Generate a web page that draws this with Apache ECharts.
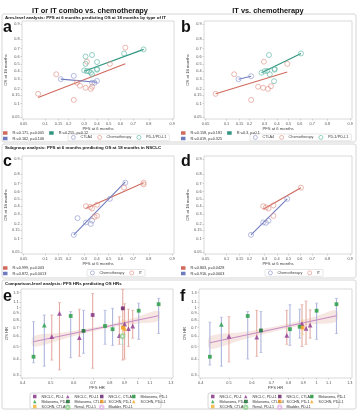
<!DOCTYPE html>
<html>
<head>
<meta charset="utf-8">
<script src="https://cdn.jsdelivr.net/npm/echarts@6/dist/echarts.min.js"></script>
<style>
html, body { margin: 0; padding: 0; background: #fff; }
#chart { width: 358px; height: 411px; }
</style>
</head>
<body>
<div id="chart"></div>
<script>
// ---- panel a : arm level, IT or IT combo vs chemo ----
var aCtlaX = [0.16, 0.23, 0.36, 0.38, 0.40];
var aCtlaY = [0.30, 0.34, 0.26, 0.26, 0.28];
var aChemoX = [0.08, 0.14, 0.23, 0.25, 0.27, 0.31, 0.32, 0.35, 0.36, 0.51, 0.64];
var aChemoY = [0.16, 0.36, 0.12, 0.26, 0.23, 0.21, 0.53, 0.20, 0.22, 0.50, 0.71];
var aPdX = [0.30, 0.31, 0.31, 0.32, 0.335, 0.35, 0.36, 0.36, 0.40, 0.40, 0.40, 0.63, 0.77];
var aPdY = [0.41, 0.60, 0.50, 0.40, 0.40, 0.38, 0.36, 0.62, 0.525, 0.42, 0.43, 0.64, 0.69];
var aCtlaFitX = [0.16, 0.40], aCtlaFitY = [0.30, 0.265];
var aChemoFitX = [0.08, 0.64], aChemoFitY = [0.134, 0.50];
var aPdFitX = [0.30, 0.77], aPdFitY = [0.40, 0.69];
var aStats = ['R²=0.171, p=0.005', 'R²=0.255, p=0.12', 'R²=0.162, p=0.106'];

// ---- panel b : IT vs chemo ----
var bCtlaX = [0.145, 0.21];
var bCtlaY = [0.30, 0.335];
var bChemoX = [0.07, 0.127, 0.21, 0.254, 0.29, 0.295, 0.326, 0.35, 0.49];
var bChemoY = [0.16, 0.36, 0.12, 0.22, 0.21, 0.53, 0.20, 0.225, 0.50];
var bPdX = [0.278, 0.30, 0.32, 0.334, 0.34, 0.38, 0.38, 0.375, 0.61];
var bPdY = [0.38, 0.40, 0.405, 0.62, 0.36, 0.42, 0.43, 0.277, 0.64];
var bCtlaFitX = [0.145, 0.21], bCtlaFitY = [0.30, 0.335];
var bChemoFitX = [0.07, 0.49], bChemoFitY = [0.16, 0.39];
var bPdFitX = [0.278, 0.61], bPdFitY = [0.38, 0.64];
var bStats = ['R²=0.158, p=0.181', 'R²=0.3, p=0.1', 'R²=0.019, p=0.325'];

// ---- panel c : NSCLC, IT or IT combo ----
var cChemoX = [0.23, 0.254, 0.313, 0.35, 0.36, 0.51, 0.64];
var cChemoY = [0.12, 0.256, 0.213, 0.20, 0.23, 0.50, 0.71];
var cItX = [0.313, 0.345, 0.36, 0.40, 0.40, 0.38, 0.63, 0.77, 0.77];
var cItY = [0.40, 0.39, 0.37, 0.42, 0.28, 0.27, 0.65, 0.71, 0.69];
var cChemoFitX = [0.23, 0.64], cChemoFitY = [0.12, 0.72];
var cItFitX = [0.31, 0.77], cItFitY = [0.37, 0.71];
var cStats = ['R²=0.999, p=0.003', 'R²=0.872, p=0.0013'];

// ---- panel d : NSCLC, IT ----
var dChemoX = [0.209, 0.29, 0.31, 0.33, 0.49];
var dChemoY = [0.12, 0.213, 0.21, 0.23, 0.50];
var dItX = [0.29, 0.31, 0.33, 0.37, 0.37, 0.61];
var dItY = [0.40, 0.385, 0.37, 0.41, 0.28, 0.65];
var dChemoFitX = [0.209, 0.49], dChemoFitY = [0.12, 0.50];
var dItFitX = [0.29, 0.61], dItFitY = [0.36, 0.65];
var dStats = ['R²=0.803, p=0.0428', 'R²=0.916, p=0.0003'];

// ---- panel e : comparison level HRs ----
var eCat = ['Melanoma, PD-1', 'Melanoma, PD-L1', 'NSCLC, PD-L1', 'NSCLC, PD-L1', 'Melanoma, PD-1',
    'NSCLC, PD-L1', 'Melanoma, CTLA-4', 'NSCLC, PD-1', 'Melanoma, PD-1', 'Melanoma, PD-1',
    'NSCLC, PD-L1', 'NSCLC, CTLA-4', 'Renal, PD-L1', 'SCCHN, PD-1', 'SCCHN, PD-L1',
    'NSCLC, PD-L1', 'NSCLC, PD-L1', 'NSCLC, PD-L1', 'Melanoma, PD-1', 'Melanoma, PD-1'];
var eX  = [0.436, 0.475, 0.504, 0.536, 0.586, 0.628, 0.649, 0.698, 0.77, 0.818, 0.863, 0.887, 0.885, 0.887, 0.90, 0.90, 0.928, 0.96, 1.007, 1.18];
var eY  = [0.417, 0.73, 0.595, 0.90, 0.86, 0.585, 0.66, 0.875, 0.72, 0.68, 0.606, 0.985, 0.60, 0.70, 0.69, 0.745, 0.686, 0.72, 0.944, 1.06];
var eLo = [0.375, 0.353, 0.393, 0.33, 0.41, 0.42, 0.443, 0.34, 0.52, 0.51, 0.52, 0.393, 0.52, 0.62, 0.62, 0.40, 0.50, 0.58, 0.568, 0.63];
var eHi = [0.777, 0.874, 0.874, 1.09, 0.93, 0.97, 0.95, 1.28, 0.95, 0.985, 0.85, 1.38, 0.74, 0.80, 0.78, 1.07, 0.97, 0.95, 1.08, 1.175];
var eFitX = [0.435, 1.18], eFitY = [0.544, 0.864];
var eBandX = [0.435, 0.55, 0.70, 0.85, 1.0, 1.18];
var eBandLo = [0.50, 0.57, 0.655, 0.717, 0.753, 0.79];
var eBandHi = [0.60, 0.64, 0.70, 0.769, 0.85, 0.945];

// ---- panel f : comparison level HRs, IT only ----
var fCat = ['Melanoma, PD-1', 'Melanoma, PD-L1', 'NSCLC, PD-L1', 'Melanoma, PD-1', 'NSCLC, PD-L1',
    'Melanoma, CTLA-4', 'NSCLC, PD-L1', 'Melanoma, PD-1', 'Melanoma, PD-1', 'NSCLC, PD-L1',
    'SCCHN, PD-1', 'NSCLC, PD-L1', 'NSCLC, PD-L1', 'Melanoma, PD-1', 'Melanoma, PD-1'];
var fX  = [0.43, 0.471, 0.50, 0.58, 0.623, 0.644, 0.79, 0.81, 0.875, 0.891, 0.895, 0.92, 0.95, 1.0, 1.17];
var fY  = [0.417, 0.74, 0.60, 0.86, 0.59, 0.665, 0.61, 0.68, 0.71, 0.75, 0.70, 0.69, 0.73, 0.944, 1.06];
var fLo = [0.36, 0.353, 0.38, 0.40, 0.42, 0.45, 0.52, 0.51, 0.58, 0.50, 0.62, 0.52, 0.58, 0.568, 0.63];
var fHi = [0.77, 0.84, 0.85, 0.93, 0.95, 0.93, 0.95, 1.05, 0.97, 1.05, 0.80, 1.12, 0.96, 1.08, 1.175];
var fFitX = [0.43, 1.17], fFitY = [0.535, 0.864];
var fBandX = [0.43, 0.55, 0.70, 0.85, 1.0, 1.17];
var fBandLo = [0.48, 0.56, 0.645, 0.71, 0.745, 0.78];
var fBandHi = [0.60, 0.645, 0.705, 0.775, 0.86, 0.955];

// tick labels
var probTicks = [0.05, 0.1, 0.15, 0.2, 0.3, 0.4, 0.5, 0.6, 0.7, 0.8, 0.9];
var hrTicksX = [0.4, 0.5, 0.6, 0.7, 0.8, 0.9, 1, 1.1, 1.3];
var hrTicksY = [0.3, 0.4, 0.5, 0.6, 0.7, 0.8, 0.9, 1, 1.1, 1.3];

var groups = ['NSCLC, PD-1', 'NSCLC, PD-L1', 'NSCLC, CTLA-4', 'Melanoma, PD-1',
    'Melanoma, PD-L1', 'Melanoma, CTLA-4', 'SCCHN, PD-1', 'SCCHN, PD-L1',
    'SCCHN, CTLA-4', 'Renal, PD-L1', 'Bladder, PD-L1'];

// styles
var SALMON = '#df8f84', SALMON_L = '#cf6a5d';
var TEAL = '#5bb5a2', TEAL_L = '#2f9580';
var BLUE = '#8d96cc', BLUE_L = '#6f7bbf';
var groupStyle = {
    'NSCLC, PD-1': ['rect', '#7d2a80'],
    'NSCLC, PD-L1': ['triangle', '#8e3b93'],
    'NSCLC, CTLA-4': ['rect', '#611a66'],
    'Melanoma, PD-1': ['rect', '#1f9a3c'],
    'Melanoma, PD-L1': ['triangle', '#27a048'],
    'Melanoma, CTLA-4': ['rect', '#116b2a'],
    'SCCHN, PD-1': ['rect', '#f29a1c'],
    'SCCHN, PD-L1': ['triangle', '#f5a623'],
    'SCCHN, CTLA-4': ['rect', '#f0b030'],
    'Renal, PD-L1': ['emptyCircle', '#8fcf8c'],
    'Bladder, PD-L1': ['emptyCircle', '#e2b2e2']
};
function barColor(cat) {
    if (cat.indexOf('NSCLC') === 0) return '#e4aaa1';
    if (cat.indexOf('Melanoma') === 0) return '#adb5dc';
    if (cat.indexOf('Renal') === 0) return '#b3dccf';
    if (cat.indexOf('Bladder') === 0) return '#e9bde6';
    return '#f2cf98';
}

function logit(p) { return Math.log(p / (1 - p)); }
function ilogit(v) { return 1 / (1 + Math.exp(-v)); }
function lg(v) { return Math.log(v); }
function fmt(v) { return String(Number(v.toFixed(2))); }

var FONT = 'Liberation Sans, Arial, sans-serif';

function probAxis(gi, isY) {
    var ticks = probTicks.map(logit);
    return {
        type: 'value', gridIndex: gi,
        min: isY ? -3.05 : -3.0, max: isY ? 2.37 : 2.26,
        name: isY ? 'OS at 18 months' : 'PFS at 6 months',
        nameLocation: 'middle', nameGap: isY ? 11 : 7.5,
        nameTextStyle: { fontSize: 4.2, color: '#444' },
        axisLine: { show: false, onZero: false }, splitLine: { show: false },
        axisTick: { show: true, length: 1.5, customValues: ticks, lineStyle: { color: '#aaa', width: 0.5 } },
        axisLabel: { customValues: ticks, fontSize: 3.8, color: '#555', margin: 2.5,
            formatter: function (v) { return fmt(ilogit(v)); } }
    };
}
function hrAxis(gi, isY) {
    var ticks = (isY ? hrTicksY : hrTicksX).map(lg);
    return {
        type: 'value', gridIndex: gi,
        min: isY ? -1.252 : -0.93, max: isY ? 0.328 : 0.28,
        name: isY ? 'OS HR' : 'PFS HR',
        nameLocation: 'middle', nameGap: isY ? 11 : 8,
        nameTextStyle: { fontSize: 4.2, color: '#444' },
        axisLine: { show: false, onZero: false }, splitLine: { show: false },
        axisTick: { show: true, length: 1.5, customValues: ticks, lineStyle: { color: '#aaa', width: 0.5 } },
        axisLabel: { customValues: ticks, fontSize: 3.8, color: '#555', margin: 2.5,
            formatter: function (v) { return fmt(Math.exp(v)); } }
    };
}

function openPts(name, xs, ys, color, gi) {
    return {
        name: name, type: 'scatter', xAxisIndex: gi, yAxisIndex: gi,
        symbol: 'circle', symbolSize: 5, z: 3, silent: true,
        itemStyle: { color: 'rgba(255,255,255,0)', borderColor: color, borderWidth: 0.8 },
        data: xs.map(function (x, i) { return [logit(x), logit(ys[i])]; })
    };
}
function fitLine(name, xs, ys, color, gi, tf) {
    return {
        name: name, type: 'line', xAxisIndex: gi, yAxisIndex: gi,
        symbol: 'none', z: 2, silent: true, color: color,
        lineStyle: { width: 1.1, color: color },
        data: xs.map(function (x, i) { return [tf(x), tf(ys[i])]; })
    };
}
function errBars(gi, cats, xs, lo, hi) {
    return {
        type: 'custom', xAxisIndex: gi, yAxisIndex: gi, silent: true, z: 2,
        data: xs.map(function (x, i) { return [lg(x), lg(lo[i]), lg(hi[i]), i]; }),
        renderItem: function (params, api) {
            var top = api.coord([api.value(0), api.value(2)]);
            var bot = api.coord([api.value(0), api.value(1)]);
            var c = barColor(cats[api.value(3)]);
            var w = 1.5;
            return { type: 'group', children: [
                { type: 'line', shape: { x1: top[0], y1: top[1], x2: bot[0], y2: bot[1] }, style: { stroke: c, lineWidth: 1.1 } },
                { type: 'line', shape: { x1: top[0] - w, y1: top[1], x2: top[0] + w, y2: top[1] }, style: { stroke: c, lineWidth: 0.7 } },
                { type: 'line', shape: { x1: bot[0] - w, y1: bot[1], x2: bot[0] + w, y2: bot[1] }, style: { stroke: c, lineWidth: 0.7 } }
            ] };
        }
    };
}
function band(gi, xs, lo, hi) {
    return {
        type: 'custom', xAxisIndex: gi, yAxisIndex: gi, silent: true, z: 1,
        data: [[lg(xs[0]), lg(lo[0])]],
        renderItem: function (params, api) {
            var pts = [];
            for (var i = 0; i < xs.length; i++) pts.push(api.coord([lg(xs[i]), lg(hi[i])]));
            for (var j = xs.length - 1; j >= 0; j--) pts.push(api.coord([lg(xs[j]), lg(lo[j])]));
            return { type: 'polygon', shape: { points: pts, smooth: 0.3 }, style: { fill: 'rgba(238,208,198,0.5)' } };
        }
    };
}
function hrPoints(gi, cats, xs, ys) {
    return groups.map(function (g) {
        var st = groupStyle[g];
        var pts = [];
        xs.forEach(function (x, i) { if (cats[i] === g) pts.push([lg(x), lg(ys[i])]); });
        return {
            name: g, type: 'scatter', xAxisIndex: gi, yAxisIndex: gi, z: 4, silent: true,
            symbol: st[0], symbolSize: st[0] === 'triangle' ? 4.8 : 3.8,
            itemStyle: st[0] === 'emptyCircle' ? { color: st[1], borderWidth: 0.7 } : { color: st[1] },
            data: pts
        };
    });
}

function statLegend(left, top, names) {
    return {
        left: left, top: top, data: names, icon: 'rect', selectedMode: false,
        itemWidth: 4.5, itemHeight: 3.5, itemGap: 5, padding: 0,
        textStyle: { fontSize: 3.8, color: '#333' }
    };
}
function markLegend(left, top, items) {
    return {
        left: left, top: top, selectedMode: false, icon: 'circle',
        itemWidth: 4, itemHeight: 4, itemGap: 5, padding: [1, 3],
        borderColor: '#ccc', borderWidth: 0.5, borderRadius: 1,
        textStyle: { fontSize: 3.8, color: '#444' },
        data: items.map(function (it) {
            return { name: it[0], itemStyle: { color: '#fff', borderColor: it[1], borderWidth: 0.8 } };
        })
    };
}
function groupLegend(left, top, names) {
    return {
        left: left, top: top, orient: 'vertical', selectedMode: false, data: names,
        itemWidth: 3.5, itemHeight: 3.5, itemGap: 1, padding: 0,
        textStyle: { fontSize: 3.6, color: '#333' }
    };
}
var legCols = [
    ['NSCLC, PD-1', 'Melanoma, PD-L1', 'SCCHN, CTLA-4'],
    ['NSCLC, PD-L1', 'Melanoma, CTLA-4', 'Renal, PD-L1'],
    ['NSCLC, CTLA-4', 'SCCHN, PD-1', 'Bladder, PD-L1'],
    ['Melanoma, PD-1', 'SCCHN, PD-L1']
];
var legColX = [33, 65, 99, 132];

function txt(x, y, s, size, weight, align) {
    return { type: 'text', x: x, y: y, silent: true,
        style: { text: s, fontSize: size, fontWeight: weight || 'normal', fontFamily: FONT,
            fill: '#111', align: align || 'left', verticalAlign: 'middle' } };
}
function box(x, y, w, h) {
    return { type: 'rect', silent: true, shape: { x: x, y: y, width: w, height: h, r: 2 },
        style: { fill: 'none', stroke: '#d6d6d6', lineWidth: 1 } };
}

var series = [].concat(
    [openPts('CTLA4', aCtlaX, aCtlaY, BLUE, 0), openPts('Chemotherapy', aChemoX, aChemoY, SALMON, 0), openPts('PD-1/PD-L1', aPdX, aPdY, TEAL, 0),
     fitLine(aStats[0], aChemoFitX, aChemoFitY, SALMON_L, 0, logit), fitLine(aStats[1], aPdFitX, aPdFitY, TEAL_L, 0, logit), fitLine(aStats[2], aCtlaFitX, aCtlaFitY, BLUE_L, 0, logit)],
    [openPts('CTLA4', bCtlaX, bCtlaY, BLUE, 1), openPts('Chemotherapy', bChemoX, bChemoY, SALMON, 1), openPts('PD-1/PD-L1', bPdX, bPdY, TEAL, 1),
     fitLine(bStats[0], bChemoFitX, bChemoFitY, SALMON_L, 1, logit), fitLine(bStats[1], bPdFitX, bPdFitY, TEAL_L, 1, logit), fitLine(bStats[2], bCtlaFitX, bCtlaFitY, BLUE_L, 1, logit)],
    [openPts('Chemotherapy', cChemoX, cChemoY, BLUE, 2), openPts('IT', cItX, cItY, SALMON, 2),
     fitLine(cStats[0], cItFitX, cItFitY, SALMON_L, 2, logit), fitLine(cStats[1], cChemoFitX, cChemoFitY, BLUE_L, 2, logit)],
    [openPts('Chemotherapy', dChemoX, dChemoY, BLUE, 3), openPts('IT', dItX, dItY, SALMON, 3),
     fitLine(dStats[0], dItFitX, dItFitY, SALMON_L, 3, logit), fitLine(dStats[1], dChemoFitX, dChemoFitY, BLUE_L, 3, logit)],
    [band(4, eBandX, eBandLo, eBandHi), fitLine('fit e', eFitX, eFitY, '#c98cc4', 4, lg), errBars(4, eCat, eX, eLo, eHi)],
    hrPoints(4, eCat, eX, eY),
    [band(5, fBandX, fBandLo, fBandHi), fitLine('fit f', fFitX, fFitY, '#c98cc4', 5, lg), errBars(5, fCat, fX, fLo, fHi)],
    hrPoints(5, fCat, fX, fY)
);

var legends = [
    statLegend(3, 131, [aStats[0], aStats[1]]), statLegend(3, 136.5, [aStats[2]]),
    markLegend(68, 134, [['CTLA4', BLUE], ['Chemotherapy', SALMON], ['PD-1/PD-L1', TEAL]]),
    statLegend(181, 131, [bStats[0], bStats[1]]), statLegend(181, 136.5, [bStats[2]]),
    markLegend(250, 134, [['CTLA4', BLUE], ['Chemotherapy', SALMON], ['PD-1/PD-L1', TEAL]]),
    statLegend(3, 266, [cStats[0]]), statLegend(3, 271.5, [cStats[1]]),
    markLegend(87, 269.5, [['Chemotherapy', BLUE], ['IT', SALMON]]),
    statLegend(181, 266, [dStats[0]]), statLegend(181, 271.5, [dStats[1]]),
    markLegend(265, 269.5, [['Chemotherapy', BLUE], ['IT', SALMON]])
];
legCols.forEach(function (col, k) {
    legends.push(groupLegend(legColX[k], 394.5, col));
    legends.push(groupLegend(legColX[k] + 178, 394.5, col));
});

var chart = echarts.init(document.getElementById('chart'));
chart.setOption({
    animation: false,
    backgroundColor: '#fff',
    textStyle: { fontFamily: FONT },
    grid: [
        { left: 22, top: 21, width: 152, height: 98 },
        { left: 204, top: 21, width: 148, height: 98 },
        { left: 22, top: 156, width: 152, height: 98 },
        { left: 204, top: 156, width: 148, height: 98 },
        { left: 21, top: 289, width: 152, height: 89 },
        { left: 199, top: 289, width: 153, height: 89 }
    ].map(function (g) {
        g.show = true; g.borderColor = '#cfcfcf'; g.borderWidth = 0.8; g.backgroundColor = '#fff';
        return g;
    }),
    xAxis: [probAxis(0, false), probAxis(1, false), probAxis(2, false), probAxis(3, false), hrAxis(4, false), hrAxis(5, false)],
    yAxis: [probAxis(0, true), probAxis(1, true), probAxis(2, true), probAxis(3, true), hrAxis(4, true), hrAxis(5, true)],
    legend: legends,
    series: series,
    graphic: [
        box(2, 14, 354, 128), box(2, 144, 354, 134), box(2, 280, 354, 129),
        box(30, 393, 131, 15.5), box(208, 393, 131, 15.5),
        txt(90, 10.5, 'IT or IT combo vs. chemotherapy', 7.4, 'bold', 'center'),
        txt(268, 10.5, 'IT vs. chemotherapy', 7.4, 'bold', 'center'),
        txt(5, 17.5, 'Arm-level analysis: PFS at 6 months predicting OS at 18 months by type of IT', 4.4, 'bold'),
        txt(5, 148, 'Subgroup analysis: PFS at 6 months predicting OS at 18 months in NSCLC', 4.4, 'bold'),
        txt(5, 284, 'Comparison-level analysis: PFS HRs predicting OS HRs', 4.4, 'bold'),
        txt(3, 28, 'a', 16, 'bold'), txt(181, 28, 'b', 16, 'bold'),
        txt(3, 162, 'c', 16, 'bold'), txt(181, 162, 'd', 16, 'bold'),
        txt(3, 297, 'e', 16, 'bold'), txt(180, 297, 'f', 16, 'bold')
    ]
});
</script>
</body>
</html>
